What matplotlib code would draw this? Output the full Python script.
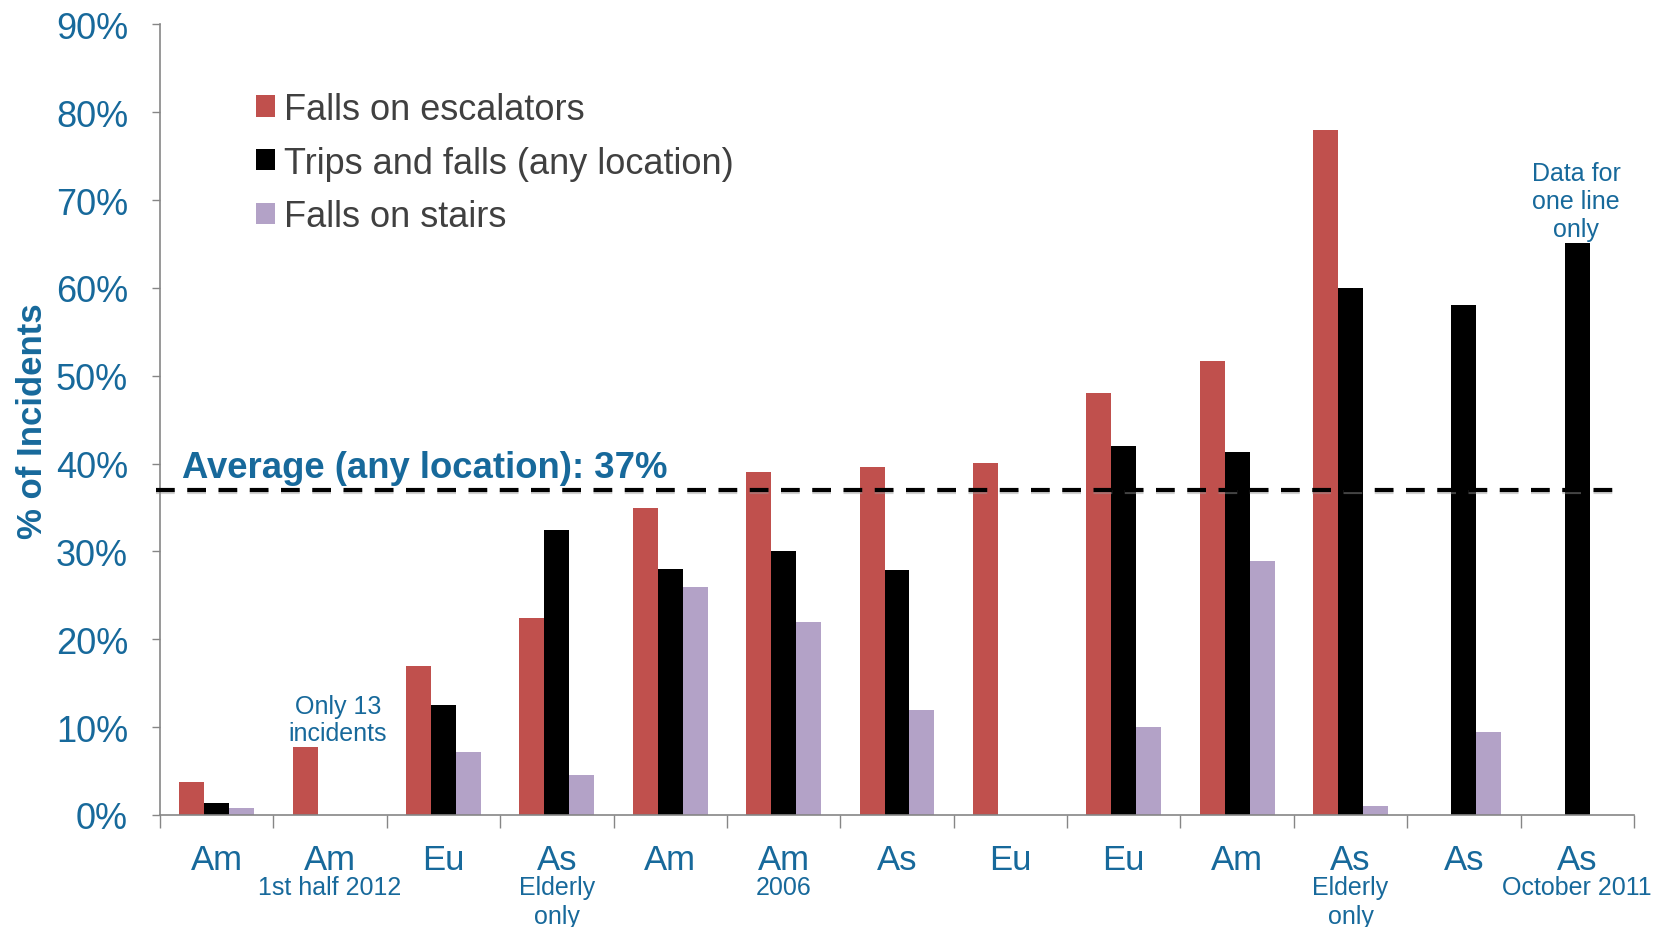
import matplotlib
matplotlib.use("Agg")
import matplotlib.pyplot as plt
from matplotlib.lines import Line2D
import numpy as np

regions = ['Am', 'Am', 'Eu', 'As', 'Am', 'Am', 'As', 'Eu', 'Eu', 'Am', 'As', 'As', 'As']
notes = ['', '1st half 2012', '', 'Elderly\nonly', '', '2006', '', '', '', '', 'Elderly\nonly', '', 'October 2011']

nan = np.nan
escalators = [3.7, 7.7, 17.0, 22.4, 35.0, 39.0, 39.6, 40.1, 48.0, 51.7, 78.0, nan, nan]
any_location = [1.4, nan, 12.5, 32.5, 28.0, 30.1, 27.9, nan, 42.0, 41.3, 60.0, 58.1, 65.1]
stairs = [0.8, nan, 7.2, 4.6, 26.0, 22.0, 12.0, nan, 10.0, 28.9, 1.0, 9.5, nan]
average = 37

blue = '#17699B'
grey_axis = '#868686'

plt.rcParams['font.family'] = ['Liberation Sans', 'DejaVu Sans']

fig = plt.figure(figsize=(16.58, 9.28), dpi=100)
ax = fig.add_axes([0.0965, 0.1207, 0.889, 0.8519])

x = np.arange(len(regions))
w = 0.22
ax.bar(x - w, escalators, w, color='#C0504D', label='Falls on escalators')
ax.bar(x, any_location, w, color='black', label='Trips and falls (any location)')
ax.bar(x + w, stairs, w, color='#B3A2C7', label='Falls on stairs')

ax.set_xlim(-0.5, len(regions) - 0.5)
ax.set_ylim(0, 90)

# average line (starts a little left of the y axis) plus a faint shadow
avg_x = [-0.535, 12.357]
shadow = Line2D(avg_x, [average - 0.25, average - 0.25], color='#999999', alpha=0.45, lw=3,
                ls=(0, (4.5, 3)), transform=ax.transData, clip_on=False, zorder=4)
line = Line2D(avg_x, [average, average], color='black', lw=3, ls=(0, (4.5, 3)),
              transform=ax.transData, clip_on=False, zorder=5)
ax.add_line(shadow)
ax.add_line(line)
ax.annotate('Average (any location): %d%%' % average, xy=(-0.306, average), xytext=(0, 9),
            textcoords='offset points', ha='left', va='baseline',
            fontsize=26.3, fontweight='bold', color=blue)

# y axis
ax.set_yticks(np.arange(0, 91, 10))
ax.set_yticklabels(['%d%%' % v for v in range(0, 91, 10)])
ax.tick_params(axis='y', direction='out', length=6, width=1, color=grey_axis,
               labelsize=26, labelcolor=blue, pad=17)

# x axis: labels at centres, ticks at boundaries
ax.set_xticks(x)
ax.set_xticklabels(regions)
ax.tick_params(axis='x', which='major', length=0, labelsize=25, labelcolor=blue, pad=20.5)
ax.set_xticks(np.arange(-0.5, len(regions), 1), minor=True)
ax.tick_params(axis='x', which='minor', direction='out', length=9, width=1, color=grey_axis)

for i, note in enumerate(notes):
    if not note:
        continue
    for j, txt in enumerate(note.split('\n')):
        ax.annotate(txt, xy=(i, 0), xycoords=('data', 'axes fraction'),
                    xytext=(0, -52 - 21 * j), textcoords='offset points',
                    ha='center', va='center', fontsize=18, color=blue, annotation_clip=False)

for side in ['top', 'right']:
    ax.spines[side].set_visible(False)
for side in ['left', 'bottom']:
    ax.spines[side].set_color(grey_axis)
    ax.spines[side].set_linewidth(1.2)

# annotations
ax.text(1.07, 10.9, 'Only 13\nincidents', ha='center', va='center', fontsize=18,
        color=blue, linespacing=1.18)
ax.text(11.99, 69.9, 'Data for\none line\nonly', ha='center', va='center', fontsize=18,
        color=blue, linespacing=1.22)

fig.text(33 / 1658, 0.546, '% of Incidents', rotation=90, ha='center', va='center',
         fontsize=25, fontweight='bold', color=blue)

leg = ax.legend(loc='upper left', bbox_to_anchor=(0.055, 0.933), frameon=False,
                fontsize=26, handlelength=0.53, handleheight=0.53, handletextpad=0.25,
                labelspacing=0.52, borderaxespad=0)
for t in leg.get_texts():
    t.set_color('#404040')

plt.savefig('out.png', dpi=100)
